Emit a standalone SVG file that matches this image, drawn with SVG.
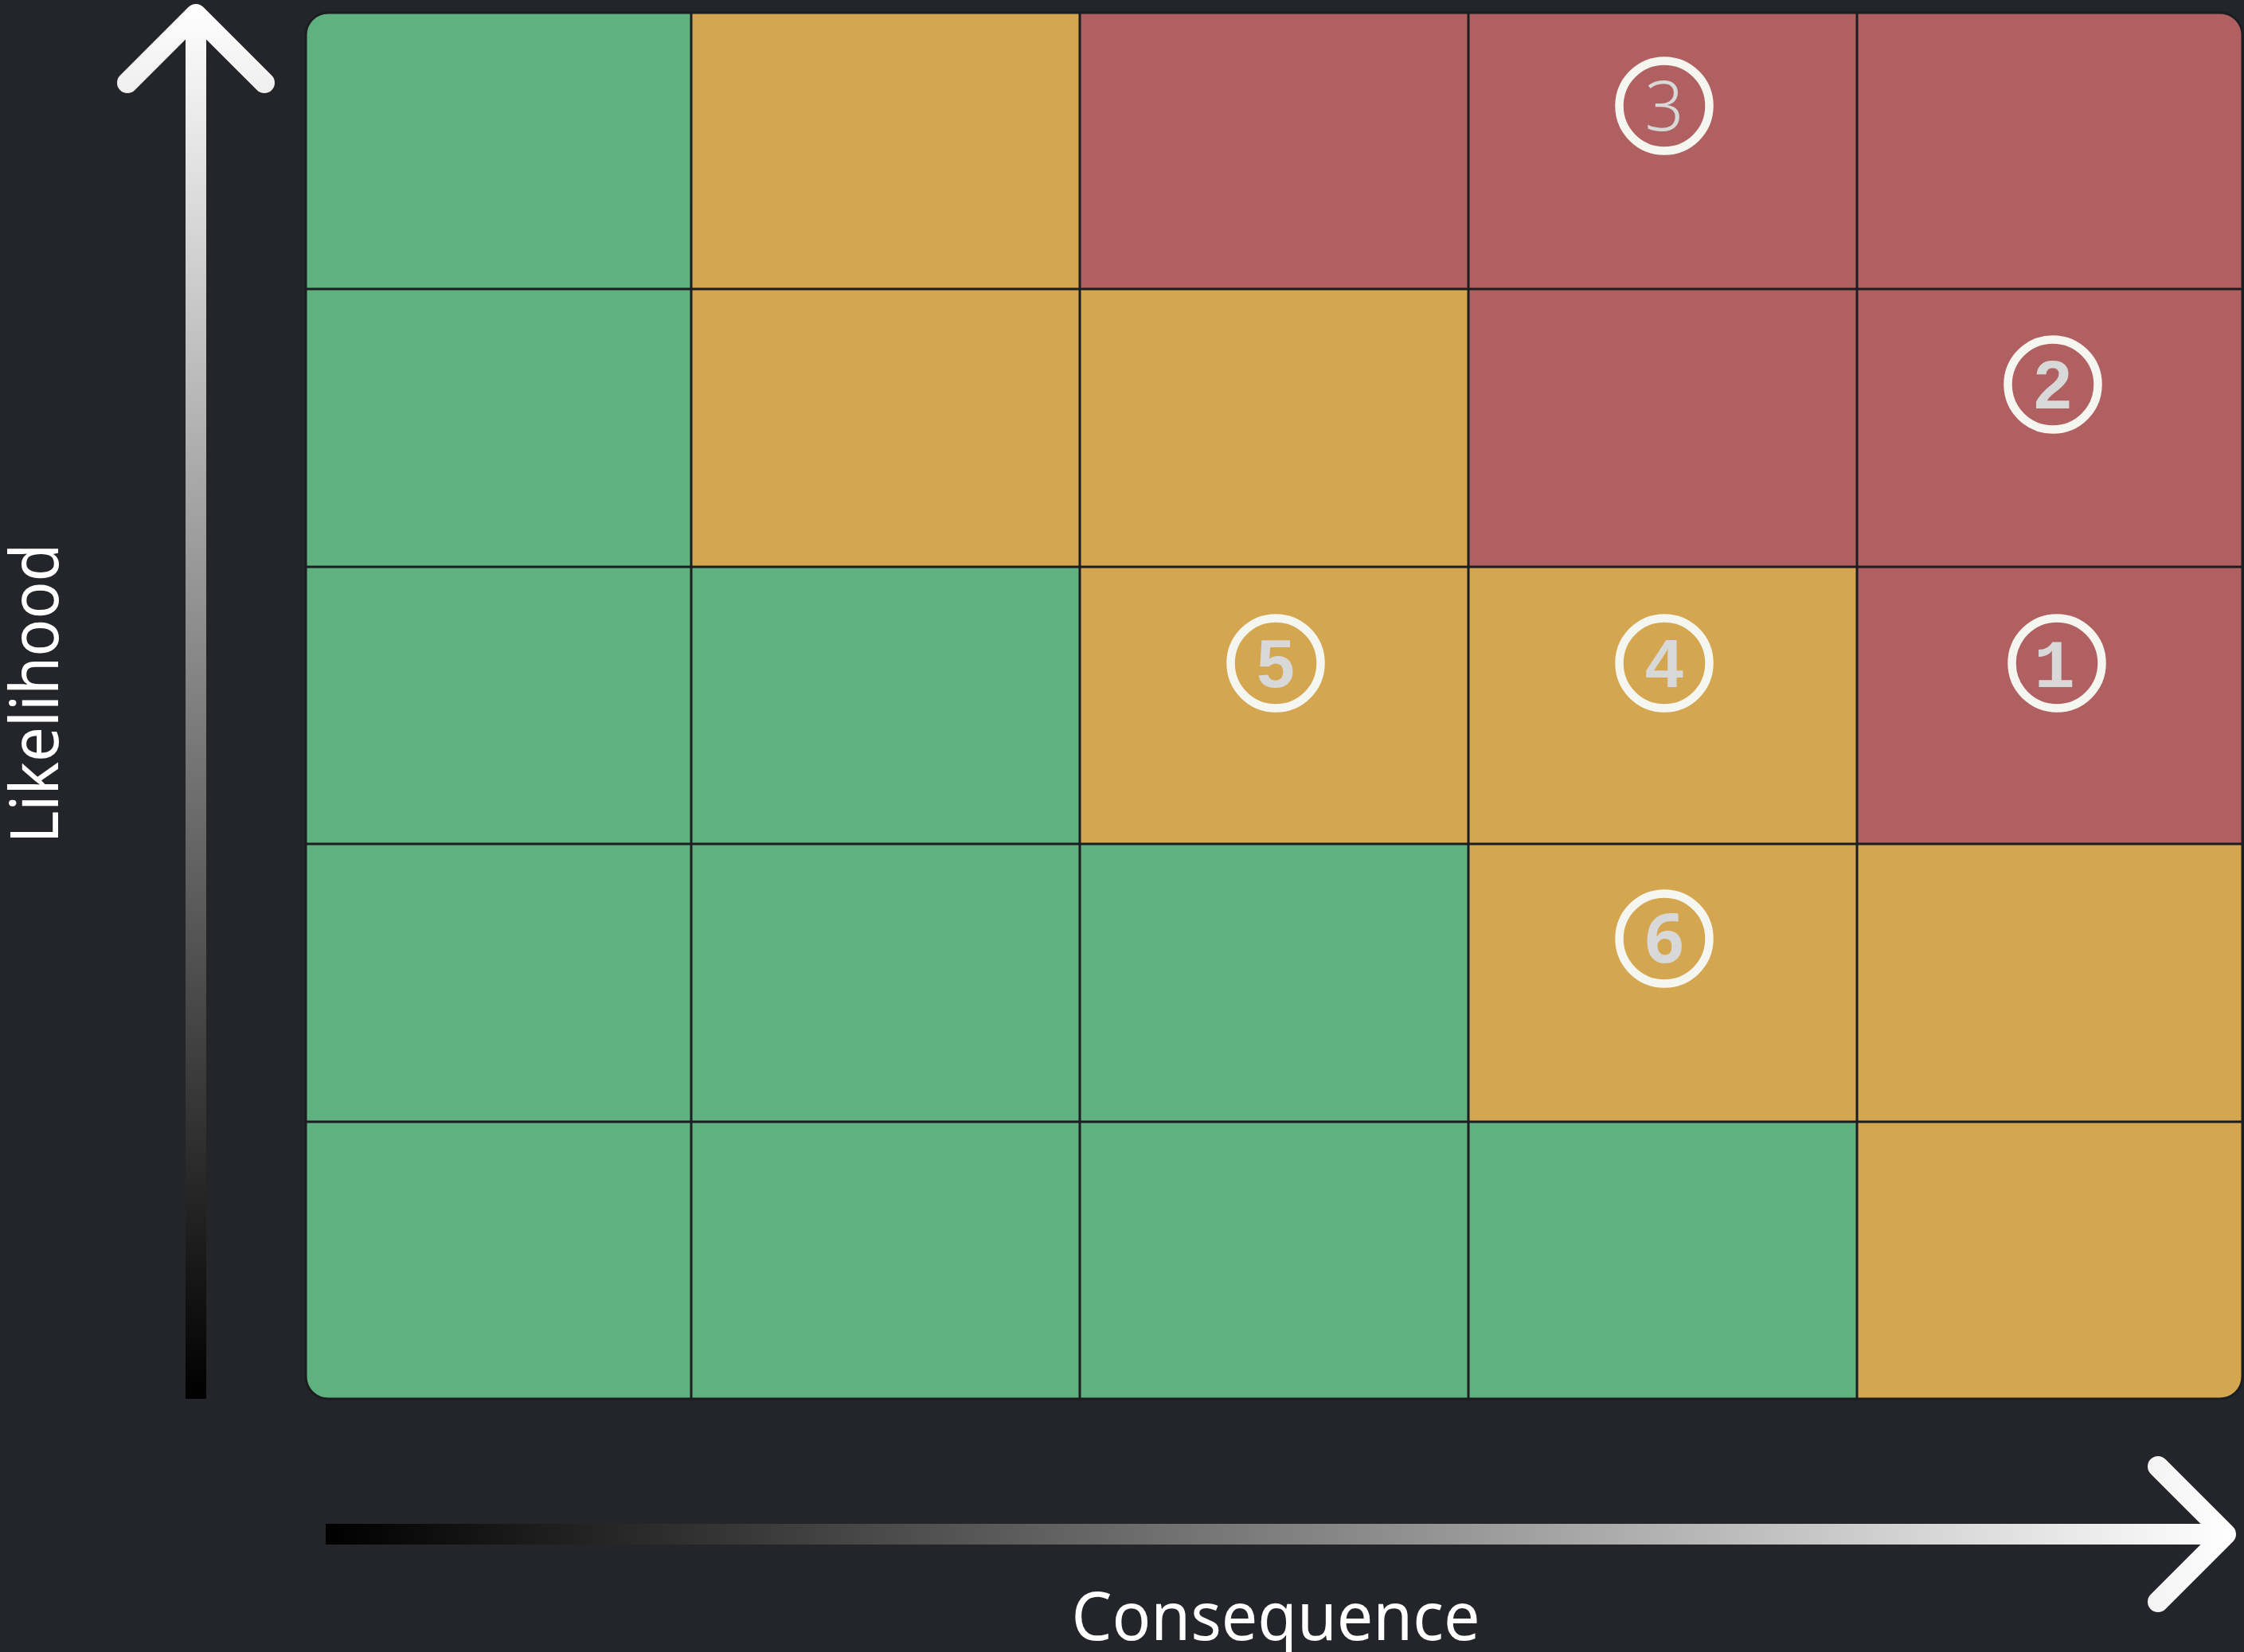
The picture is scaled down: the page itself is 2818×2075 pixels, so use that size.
<svg xmlns="http://www.w3.org/2000/svg" width="2818" height="2075" viewBox="0 0 2818 2075">
<style>
.g{fill:#5FB180}.y{fill:#D3A64F}.r{fill:#B06061}
.gl{stroke:#1B1D21;stroke-width:3;fill:none}
.ring{fill:none;stroke:#F5F6F0;stroke-width:10.5}
.dg{fill:#D8D8D8;font-size:86px;text-anchor:middle}
.lbl{fill:#FFFFFF;font-family:"Noto Sans","Liberation Sans",sans-serif;font-size:84px;text-anchor:middle}
</style>
<defs>
<clipPath id="gridclip"><rect x="384" y="16" width="2432" height="1741" rx="28"/></clipPath>
<linearGradient id="vgrad" gradientUnits="userSpaceOnUse" x1="0" y1="1757" x2="0" y2="5"><stop offset="0" stop-color="#000"/><stop offset="1" stop-color="#fff"/></linearGradient>
<linearGradient id="hgrad" gradientUnits="userSpaceOnUse" x1="409" y1="0" x2="2808" y2="0"><stop offset="0" stop-color="#000"/><stop offset="1" stop-color="#fff"/></linearGradient>
</defs>
<rect width="2818" height="2075" fill="#24252A"/>
<g id="matrix" clip-path="url(#gridclip)">
<rect class="g" x="384" y="16" width="484" height="347"/><rect class="y" x="868" y="16" width="488" height="347"/><rect class="r" x="1356" y="16" width="488" height="347"/><rect class="r" x="1844" y="16" width="488" height="347"/><rect class="r" x="2332" y="16" width="486" height="347"/>
<rect class="g" x="384" y="363" width="484" height="349"/><rect class="y" x="868" y="363" width="488" height="349"/><rect class="y" x="1356" y="363" width="488" height="349"/><rect class="r" x="1844" y="363" width="488" height="349"/><rect class="r" x="2332" y="363" width="486" height="349"/>
<rect class="g" x="384" y="712" width="484" height="348"/><rect class="g" x="868" y="712" width="488" height="348"/><rect class="y" x="1356" y="712" width="488" height="348"/><rect class="y" x="1844" y="712" width="488" height="348"/><rect class="r" x="2332" y="712" width="486" height="348"/>
<rect class="g" x="384" y="1060" width="484" height="349"/><rect class="g" x="868" y="1060" width="488" height="349"/><rect class="g" x="1356" y="1060" width="488" height="349"/><rect class="y" x="1844" y="1060" width="488" height="349"/><rect class="y" x="2332" y="1060" width="486" height="349"/>
<rect class="g" x="384" y="1409" width="484" height="348"/><rect class="g" x="868" y="1409" width="488" height="348"/><rect class="g" x="1356" y="1409" width="488" height="348"/><rect class="g" x="1844" y="1409" width="488" height="348"/><rect class="y" x="2332" y="1409" width="486" height="348"/>
<path class="gl" d="M868 16V1757M1356 16V1757M1844 16V1757M2332 16V1757M384 363H2818M384 712H2818M384 1060H2818M384 1409H2818"/>
</g>
<rect class="gl" x="384" y="16" width="2432" height="1741" rx="28"/>
<g id="risk-1"><circle class="ring" cx="2583" cy="833" r="56.5"/><text class="dg" x="2580" y="863" font-family="Liberation Mono,monospace" font-weight="bold">1</text></g>
<g id="risk-2"><circle class="ring" cx="2578" cy="483" r="56.5"/><text class="dg" x="2578" y="513" font-family="Liberation Sans,sans-serif" font-weight="bold">2</text></g>
<g id="risk-3"><circle class="ring" cx="2090" cy="133" r="56.5"/><text class="dg" x="2090" y="164" font-family="Noto Sans,sans-serif" font-weight="300">3</text></g>
<g id="risk-4"><circle class="ring" cx="2090" cy="833" r="56.5"/><text class="dg" x="2090" y="863" font-family="Liberation Sans,sans-serif" font-weight="bold">4</text></g>
<g id="risk-5"><circle class="ring" cx="1602" cy="833" r="56.5"/><text class="dg" x="1602" y="863" font-family="Liberation Sans,sans-serif" font-weight="bold">5</text></g>
<g id="risk-6"><circle class="ring" cx="2090" cy="1179" r="56.5"/><text class="dg" x="2090" y="1209" font-family="Open Sans,sans-serif" font-weight="bold">6</text></g>
<g id="axes" fill="none" stroke-width="26">
<path d="M246 1757V24" stroke="url(#vgrad)"/>
<path d="M160 104L246 18L332 104" stroke="url(#vgrad)" stroke-linecap="round" stroke-linejoin="round"/>
<path d="M409 1927H2790" stroke="url(#hgrad)"/>
<path d="M2710 1842L2795 1927L2710 2012" stroke="url(#hgrad)" stroke-linecap="round" stroke-linejoin="round"/>
</g>
<text class="lbl" x="1602" y="2060" textLength="513" lengthAdjust="spacingAndGlyphs">Consequence</text>
<text class="lbl" transform="translate(73 871) rotate(-90)" x="0" y="0" textLength="377" lengthAdjust="spacingAndGlyphs">Likelihood</text>
</svg>
